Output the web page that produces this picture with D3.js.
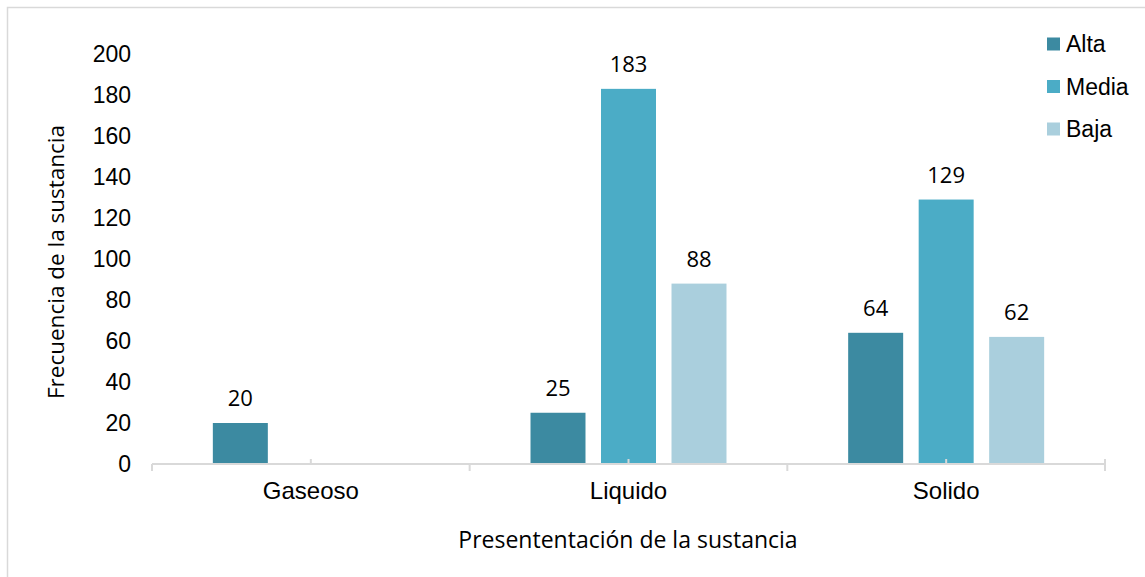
<!DOCTYPE html>
<html>
<head>
<meta charset="utf-8">
<script src="https://cdn.jsdelivr.net/npm/d3@7"></script>
<style>
  html, body { margin: 0; padding: 0; background: #fff; }
  svg { display: block; }
</style>
</head>
<body>
<svg id="chart" width="1145" height="577"></svg>
<script>
// Categories, series and values
const categories = ["Gaseoso", "Liquido", "Solido"];
const seriesNames = ["Alta", "Media", "Baja"];
const alta  = [20, 25, 64];
const media = [null, 183, 129];
const baja  = [null, 88, 62];
const yTicks = [0, 20, 40, 60, 80, 100, 120, 140, 160, 180, 200];
const colors = ["#3C8AA1", "#4BACC6", "#AACFDD"];

const seriesValues = [alta, media, baja];

const svg = d3.select("#chart");
const W = 1145, H = 577;

// Outer frame (top and left edges visible)
svg.append("path")
  .attr("d", `M7.5,${H + 2} L7.5,7.5 L${W + 2},7.5`)
  .attr("fill", "none")
  .attr("stroke", "#D9D9D9")
  .attr("stroke-width", 1.5);

const plotLeft = 152, plotRight = 1105;
const y = d3.scaleLinear().domain([0, 200]).range([464, 54]);

const x0 = d3.scaleBand().domain(categories).range([plotLeft, plotRight]).padding(0);
const groupHalf = 105.75;
const x1 = d3.scaleBand().domain(seriesNames)
  .range([x0.bandwidth() / 2 - groupHalf, x0.bandwidth() / 2 + groupHalf])
  .paddingInner(0.22).paddingOuter(0.11);

// Y axis labels (no line, no ticks)
const yAxis = svg.append("g")
  .attr("transform", "translate(140,0)")
  .call(d3.axisLeft(y).tickValues(yTicks).tickSize(0).tickPadding(9));
yAxis.select(".domain").remove();
yAxis.selectAll("text")
  .attr("font-family", "'Liberation Sans', Arial, sans-serif")
  .attr("font-size", 23)
  .attr("fill", "#000");

// Bars
const rows = [];
categories.forEach((c, i) => {
  seriesNames.forEach((s, j) => {
    const v = seriesValues[j][i];
    if (v != null) rows.push({ cat: c, series: s, value: v, color: colors[j] });
  });
});

const bars = svg.append("g");
bars.selectAll("rect").data(rows).join("rect")
  .attr("x", d => x0(d.cat) + x1(d.series))
  .attr("y", d => y(d.value))
  .attr("width", x1.bandwidth())
  .attr("height", d => y(0) - y(d.value))
  .attr("fill", d => d.color);

// Value labels
bars.selectAll("text").data(rows).join("text")
  .attr("x", d => x0(d.cat) + x1(d.series) + x1.bandwidth() / 2)
  .attr("y", d => y(d.value) - 17)
  .attr("text-anchor", "middle")
  .attr("font-family", "'Open Sans', sans-serif")
  .attr("font-size", 22)
  .attr("fill", "#000")
  .text(d => d.value);

// X axis line and ticks
const axisY = y(0);
const xAxis = svg.append("g");
xAxis.append("line")
  .attr("x1", plotLeft).attr("x2", plotRight)
  .attr("y1", axisY).attr("y2", axisY)
  .attr("stroke", "#D9D9D9").attr("stroke-width", 2);

const boundaries = categories.map(c => x0(c)).concat([plotRight]);
xAxis.selectAll("line.bound").data(boundaries).join("line")
  .attr("class", "bound")
  .attr("x1", d => d).attr("x2", d => d)
  .attr("y1", (d, i) => i === boundaries.length - 1 ? axisY - 5 : axisY)
  .attr("y2", axisY + 7)
  .attr("stroke", "#D9D9D9").attr("stroke-width", 2);

xAxis.selectAll("line.mid").data(categories).join("line")
  .attr("class", "mid")
  .attr("x1", d => x0(d) + x0.bandwidth() / 2)
  .attr("x2", d => x0(d) + x0.bandwidth() / 2)
  .attr("y1", axisY - 5).attr("y2", axisY)
  .attr("stroke", "#D9D9D9").attr("stroke-width", 2);

xAxis.selectAll("text").data(categories).join("text")
  .attr("x", d => x0(d) + x0.bandwidth() / 2)
  .attr("y", 499)
  .attr("text-anchor", "middle")
  .attr("font-family", "'Liberation Sans', Arial, sans-serif")
  .attr("font-size", 24)
  .attr("fill", "#000")
  .text(d => d);

// Axis titles
svg.append("text")
  .attr("x", 628).attr("y", 548)
  .attr("text-anchor", "middle")
  .attr("font-family", "'Open Sans', sans-serif")
  .attr("font-size", 23)
  .attr("fill", "#000")
  .text("Presententación de la sustancia");

svg.append("text")
  .attr("transform", "translate(64,262) rotate(-90)")
  .attr("text-anchor", "middle")
  .attr("font-family", "'Open Sans', sans-serif")
  .attr("font-size", 22.5)
  .attr("fill", "#000")
  .text("Frecuencia de la sustancia");

// Legend
const legend = svg.append("g").attr("transform", "translate(1047,44)");
const items = legend.selectAll("g").data(seriesNames).join("g")
  .attr("transform", (d, i) => `translate(0,${i * 42.5})`);
items.append("rect")
  .attr("x", 0).attr("y", -6.5)
  .attr("width", 13).attr("height", 13)
  .attr("fill", (d, i) => colors[i]);
items.append("text")
  .attr("x", 19).attr("y", 8)
  .attr("font-family", "'Liberation Sans', Arial, sans-serif")
  .attr("font-size", 23)
  .attr("fill", "#000")
  .text(d => d);
</script>
</body>
</html>
